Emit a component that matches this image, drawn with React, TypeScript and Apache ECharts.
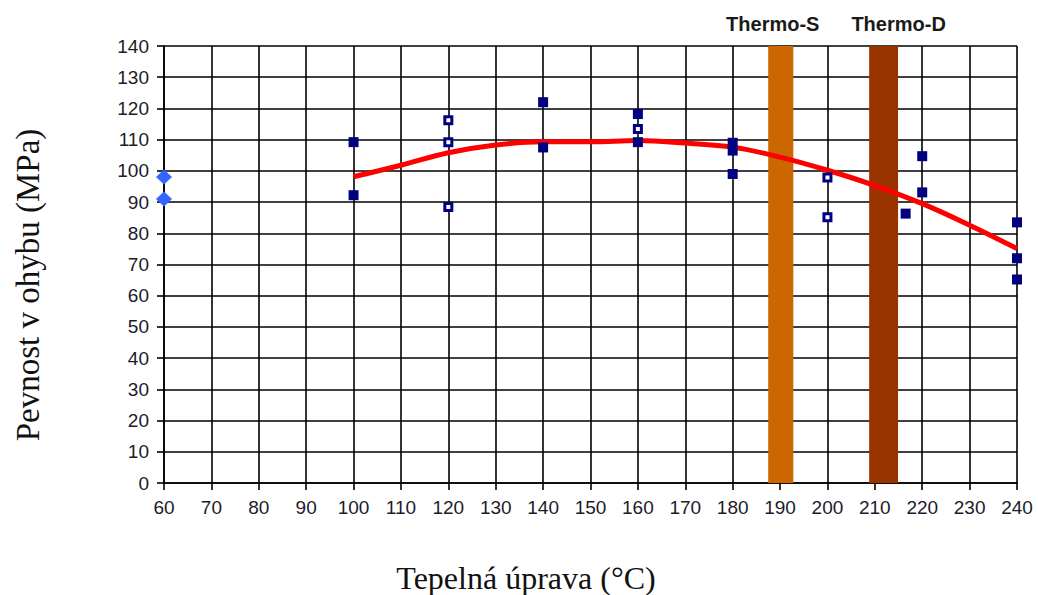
import React, { useEffect, useRef } from "react";
import * as echarts from "echarts";

const xTicks = [60, 240];
const yRange = [0, 140];

const diamondPoints: [number, number][] = [
  [60, 98],
  [60, 91],
];

const filledSquares: [number, number][] = [
  [100, 109.2], [100, 92.2],
  [140, 122], [140, 107.5],
  [160, 118.2], [160, 109.2],
  [180, 109], [180, 106.5], [180, 99],
  [216.5, 86.3],
  [220, 104.7], [220, 93.1],
  [240, 83.5], [240, 72], [240, 65.2],
];

const openSquares: [number, number][] = [
  [120, 116.2], [120, 109.2], [120, 88.4],
  [160, 113.4],
  [200, 97.9], [200, 85.1],
];

const trendX = [100, 110, 120, 130, 140, 150, 160, 170, 180, 190, 200, 210, 220, 230, 240];
const trendY = [98.1, 101.8, 105.8, 108.3, 109.3, 109.3, 109.7, 108.9, 107.6, 104.4, 100.2, 95.3, 89.5, 82.6, 75.1];

const bandNames = ["Thermo-S", "Thermo-D"];
const bandFrom = [187.5, 208.8];
const bandTo = [192.8, 214.9];
const bandColors = ["#CC6600", "#993300"];
const bandLabelShift = [-8, 15];

const xTitle = "Tepelná úprava (°C)";
const yTitle = "Pevnost v ohybu (MPa)";

export default function App() {
  const ref = useRef<HTMLDivElement>(null);
  useEffect(() => {
    if (!ref.current) return;
    const chart = echarts.init(ref.current, null, { renderer: "svg" });
    const gridLine = { lineStyle: { color: "#000", width: 1.6 } };
    const labelStyle = {
      fontFamily: "Liberation Sans, Arial, sans-serif",
      fontSize: 19,
      color: "#1c1c2c",
    };
    chart.setOption({
      animation: false,
      backgroundColor: "#fff",
      grid: { left: 164, right: 21, top: 46, bottom: 112, containLabel: false },
      xAxis: {
        type: "value",
        min: xTicks[0],
        max: xTicks[1],
        interval: 10,
        axisLine: { show: true, onZero: false, lineStyle: { color: "#000", width: 1.6 } },
        axisTick: { show: true, inside: false, length: 7, lineStyle: { color: "#000", width: 1.6 } },
        splitLine: { show: true, ...gridLine },
        axisLabel: { ...labelStyle, margin: 15 },
      },
      yAxis: {
        type: "value",
        min: yRange[0],
        max: yRange[1],
        interval: 10,
        axisLine: { show: true, onZero: false, lineStyle: { color: "#000", width: 1.6 } },
        axisTick: { show: true, inside: false, length: 7, lineStyle: { color: "#000", width: 1.6 } },
        splitLine: { show: true, ...gridLine },
        axisLabel: { ...labelStyle, margin: 15 },
      },
      graphic: [
        {
          type: "text",
          x: 526,
          y: 578,
          style: {
            text: xTitle,
            fontFamily: "Liberation Serif, Times New Roman, serif",
            fontSize: 32,
            fill: "#111",
            textAlign: "center",
            textVerticalAlign: "middle",
          },
        },
        {
          type: "text",
          x: 28,
          y: 285,
          rotation: Math.PI / 2,
          style: {
            text: yTitle,
            fontFamily: "Liberation Serif, Times New Roman, serif",
            fontSize: 33,
            fill: "#111",
            textAlign: "center",
            textVerticalAlign: "middle",
          },
        },
      ],
      series: [
        {
          type: "line",
          data: [],
          z: 1,
          markArea: {
            silent: true,
            data: bandNames.map((name, i) => [
              {
                name,
                xAxis: bandFrom[i],
                yAxis: yRange[0],
                itemStyle: { color: bandColors[i], opacity: 1 },
                label: {
                  show: true,
                  position: "top",
                  distance: 12,
                  offset: [bandLabelShift[i], 0],
                  fontFamily: "Liberation Sans, Arial, sans-serif",
                  fontWeight: "bold",
                  fontSize: 20,
                  color: "#1a1a1a",
                },
              },
              { xAxis: bandTo[i], yAxis: yRange[1] },
            ]),
          },
        },
        {
          type: "line",
          data: trendX.map((x, i) => [x, trendY[i]]),
          smooth: 0.4,
          showSymbol: false,
          lineStyle: { color: "#FF0000", width: 5 },
          z: 3,
        },
        {
          type: "scatter",
          data: filledSquares,
          symbol: "rect",
          symbolSize: 10,
          itemStyle: { color: "#000080", opacity: 1 },
          z: 4,
        },
        {
          type: "scatter",
          data: openSquares,
          symbol: "rect",
          symbolSize: 7,
          itemStyle: { color: "#ffffff", borderColor: "#000080", borderWidth: 3, opacity: 1 },
          z: 4,
        },
        {
          type: "scatter",
          data: diamondPoints,
          symbol: "diamond",
          symbolSize: [16, 15],
          clip: false,
          itemStyle: { color: "#3366FF", opacity: 1 },
          z: 5,
        },
      ],
    });
    return () => chart.dispose();
  }, []);
  return <div ref={ref} style={{ width: 1038, height: 595, position: "absolute", left: 0, top: 0 }} />;
}
